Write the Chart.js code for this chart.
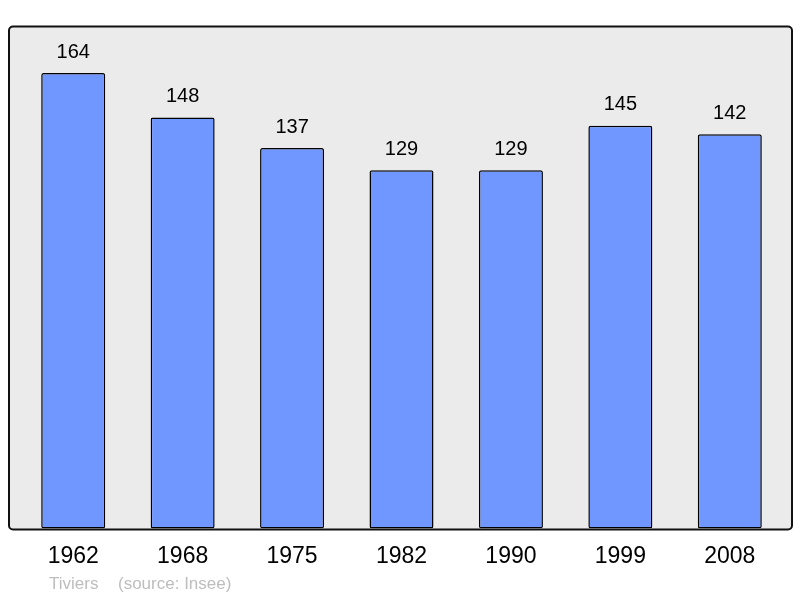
<!DOCTYPE html>
<html>
<head>
<meta charset="utf-8">
<script src="https://cdn.jsdelivr.net/npm/chart.js@4/dist/chart.umd.min.js"></script>
<style>
  body { margin: 0; background: #fff; }
  canvas { display: block; }
</style>
</head>
<body>
<canvas id="chart" width="800" height="598"></canvas>
<script>
const years = ["1962", "1968", "1975", "1982", "1990", "1999", "2008"];
const population = [164, 148, 137, 129, 129, 145, 142];
const footer = ["Tiviers", "(source: Insee)"];

const FONT = "'Liberation Sans', Arial, sans-serif";

// grey rounded frame behind the bars
const framePlugin = {
  id: "frame",
  beforeDraw(chart) {
    const { ctx, chartArea: a } = chart;
    ctx.save();
    ctx.beginPath();
    ctx.roundRect(a.left - 9.5, a.top - 0.5, a.right - a.left + 17, a.bottom - a.top + 1.5, 4);
    ctx.fillStyle = "#ebebeb";
    ctx.fill();
    ctx.lineWidth = 2;
    ctx.strokeStyle = "#111";
    ctx.stroke();
    ctx.restore();
  }
};

const labelPlugin = {
  id: "valueLabels",
  afterDatasetsDraw(chart) {
    const { ctx } = chart;
    const meta = chart.getDatasetMeta(0);
    ctx.save();
    ctx.font = "20px " + FONT;
    ctx.fillStyle = "#000";
    ctx.textAlign = "center";
    ctx.textBaseline = "middle";
    meta.data.forEach((bar, i) => {
      ctx.fillText(String(population[i]), bar.x, bar.y - 21);
    });
    ctx.restore();
  },
  afterDraw(chart) {
    const { ctx } = chart;
    ctx.save();
    ctx.font = "17px " + FONT;
    ctx.fillStyle = "#bdbdbd";
    ctx.textBaseline = "middle";
    ctx.fillText(footer[0], 49, 584);
    ctx.fillText(footer[1], 118, 584);
    ctx.restore();
  }
};

new Chart(document.getElementById("chart"), {
  type: "bar",
  data: {
    labels: years,
    datasets: [{
      data: population,
      backgroundColor: "#7096ff",
      borderColor: "#000",
      borderWidth: 1.5,
      borderRadius: 2,
      borderSkipped: false,
      categoryPercentage: 1,
      barPercentage: 0.585
    }]
  },
  options: {
    responsive: false,
    animation: false,
    layout: { padding: { left: 18.5, right: 15.5, top: 27, bottom: 14 } },
    plugins: {
      legend: { display: false },
      tooltip: { enabled: false }
    },
    scales: {
      x: {
        grid: { display: false, drawTicks: false },
        border: { display: false },
        ticks: { color: "#000", padding: 14, font: { family: FONT, size: 23 } }
      },
      y: { display: false, min: 0, max: 180.6 }
    }
  },
  plugins: [framePlugin, labelPlugin]
});
</script>
</body>
</html>
